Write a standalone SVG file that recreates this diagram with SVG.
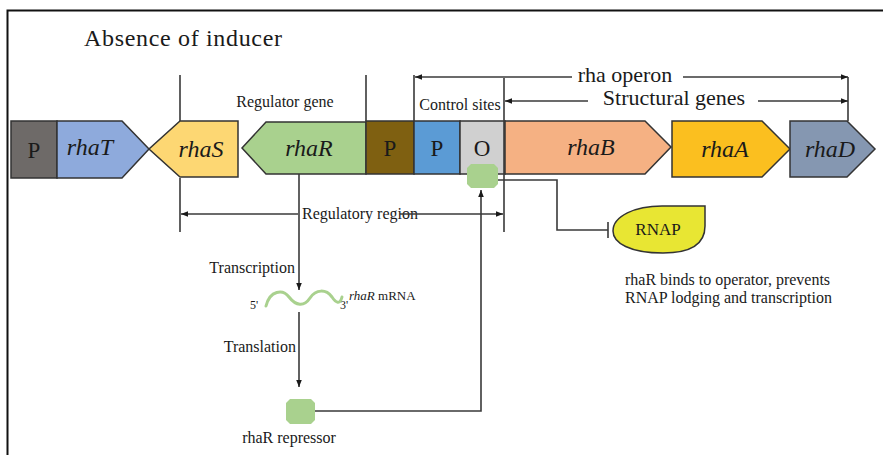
<svg xmlns="http://www.w3.org/2000/svg" width="883" height="455" viewBox="0 0 883 455" font-family="'Liberation Serif', 'DejaVu Serif', serif">
<style>
.t{fill:#1a1a1a}
.g{stroke:#333;stroke-width:1.5}
.ln{stroke:#3a3a3a;stroke-width:1.6;fill:none}
.gi{font-style:italic;font-size:24px}
.pl{font-size:23px}
.s{font-size:16px}
</style>
<defs>
<marker id="ah" viewBox="0 0 10 10" refX="10" refY="5" markerWidth="7" markerHeight="7" orient="auto-start-reverse" markerUnits="userSpaceOnUse">
<path d="M0,1 L10,5 L0,9 Z" fill="#1a1a1a"/>
</marker>
</defs>
<rect width="883" height="455" fill="#fff"/>
<path d="M7.5 455 V10.5 H883" fill="none" stroke="#111" stroke-width="2"/>
<text class="t" x="84" y="46" font-size="24" textLength="198">Absence of inducer</text>

<g id="P1"><rect class="g" x="11" y="121" width="46" height="57" fill="#6e6a68"/><text class="t pl" x="34" y="158" text-anchor="middle">P</text></g>
<g id="rhaT"><path class="g" d="M57 121 H122 L149 149 L122 178 H57 Z" fill="#8eaadc"/><text class="t gi" x="90" y="155" text-anchor="middle">rhaT</text></g>
<g id="rhaS"><path class="g" d="M238 121 H180 L149 149 L180 177 H238 Z" fill="#fdd773"/><text class="t gi" x="201" y="157" text-anchor="middle">rhaS</text></g>
<g id="rhaR"><path class="g" d="M366 122 H266 L242 148 L266 174 H366 Z" fill="#a9d18e"/><text class="t gi" x="309" y="156" text-anchor="middle">rhaR</text></g>
<g id="P2"><rect class="g" x="366" y="121" width="48" height="53" fill="#7f6011"/><text class="t pl" x="390" y="156" text-anchor="middle">P</text></g>
<g id="P3"><rect class="g" x="414" y="121" width="46" height="53" fill="#5b9bd5"/><text class="t pl" x="437" y="156" text-anchor="middle">P</text></g>
<g id="O"><rect class="g" x="460" y="121" width="45" height="53" fill="#d0d0d0"/><text class="t pl" x="482" y="156" text-anchor="middle">O</text></g>
<g id="rhaB"><path class="g" d="M505 121 H645 L671 147 L645 174 H505 Z" fill="#f5b183"/><text class="t gi" x="591" y="155" text-anchor="middle">rhaB</text></g>
<g id="rhaA"><path class="g" d="M672 121 H762 L790 149 L762 177 H672 Z" fill="#fbbf1f"/><text class="t gi" x="725" y="157" text-anchor="middle">rhaA</text></g>
<g id="rhaD"><path class="g" d="M790 121 H847 L875 149 L847 177 H790 Z" fill="#8597b1"/><text class="t gi" x="830" y="157" text-anchor="middle">rhaD</text></g>

<g id="labels">
<text class="t s" x="285" y="107" text-anchor="middle">Regulator gene</text>
<text class="t s" x="460" y="110" text-anchor="middle">Control sites</text>
<text class="t" x="625" y="82" font-size="22" text-anchor="middle">rha operon</text>
<text class="t" x="674" y="105" font-size="22" text-anchor="middle">Structural genes</text>
<text class="t s" x="360" y="219" text-anchor="middle">Regulatory region</text>
<text class="t s" x="295" y="273" text-anchor="end">Transcription</text>
<text class="t s" x="296" y="352" text-anchor="end">Translation</text>
<text class="t s" x="289" y="443" text-anchor="middle">rhaR repressor</text>
<text class="t" x="250" y="309" font-size="12">5'</text>
<text class="t" x="340" y="309" font-size="12">3'</text>
<text class="t" x="349" y="300" font-size="13"><tspan font-style="italic">rhaR</tspan> mRNA</text>
<text class="t s" x="625" y="285">rhaR binds to operator, prevents</text>
<text class="t s" x="625" y="303">RNAP lodging and transcription</text>
</g>

<g id="connectors">
<path class="ln" d="M180 75 V121 M180 178 V232 M366 75 V121 M414 75 V121 M504 78 V232 M848 77 V121"/>
<path class="ln" d="M572 77 H415" marker-end="url(#ah)"/>
<path class="ln" d="M683 77 H848" marker-end="url(#ah)"/>
<path class="ln" d="M588 101 H505" marker-end="url(#ah)"/>
<path class="ln" d="M758 101 H848" marker-end="url(#ah)"/>
<path class="ln" d="M298 214 H181" marker-end="url(#ah)"/>
<path class="ln" d="M400 214 H503" marker-end="url(#ah)"/>
<path class="ln" d="M299 174 V290" marker-end="url(#ah)"/>
<path class="ln" d="M299 312 V387" marker-end="url(#ah)"/>
<path class="ln" d="M315 411 H481 V190" marker-end="url(#ah)"/>
<path class="ln" d="M498 180 H557 V230 H608 M608 222 V238"/>
</g>

<g id="mRNA"><path d="M266 306 C270 290 283 289 289 297 C296 306 304 307 310 298 C316 289 326 289 332 297 C336 303 340 305 342 297" fill="none" stroke="#a9d18e" stroke-width="3" stroke-linecap="round"/></g>
<g id="repressor"><path d="M290 399 H311 L315 403 V420 L311 424 H290 L286 420 V403 Z" fill="#a9d18e"/></g>
<g id="bound"><path d="M471 164 H494 L498 168 V184 L494 188 H471 L467 184 V168 Z" fill="#a9d18e"/></g>
<g id="RNAP"><path d="M705 206 V226 C705 244 690 253 663 253 C630 253 613 243 613 231 C613 216 635 206 662 206 Z" fill="#e8e633" stroke="#333" stroke-width="1.5"/><text class="t" x="658" y="235" font-size="17" text-anchor="middle">RNAP</text></g>
</svg>
